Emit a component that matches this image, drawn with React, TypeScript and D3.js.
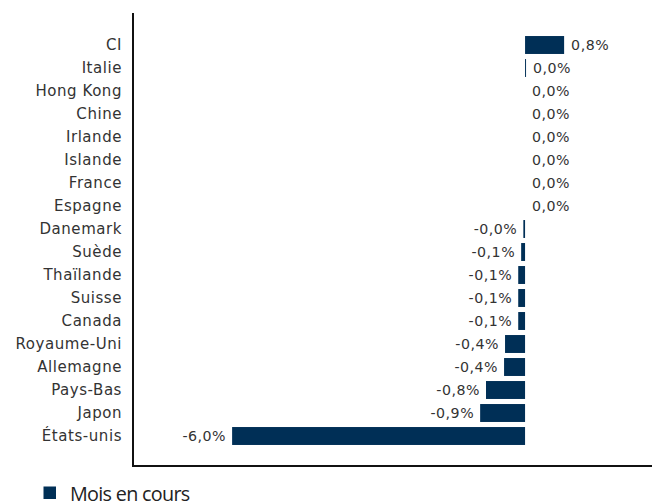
import React from "react";
import * as d3 from "d3";

const categories = ["CI","Italie","Hong Kong","Chine","Irlande","Islande","France","Espagne","Danemark","Suède","Thaïlande","Suisse","Canada","Royaume-Uni","Allemagne","Pays-Bas","Japon","États-unis"];
const values = [0.8,0.02,0,0,0,0,0,0,-0.035,-0.08,-0.14,-0.14,-0.14,-0.41,-0.43,-0.8,-0.92,-6.0];
const valueLabels = ["0,8%","0,0%","0,0%","0,0%","0,0%","0,0%","0,0%","0,0%","-0,0%","-0,1%","-0,1%","-0,1%","-0,1%","-0,4%","-0,4%","-0,8%","-0,9%","-6,0%"];
const legendLabel = "Mois en cours";

const W = 652, H = 501;
const FONT = "'DejaVu Sans', sans-serif";
const COLOR = "#002f56";

export default function App() {
  const x = d3.scaleLinear().domain([-8.03, 2.6]).range([133, 652]);
  const y = d3.scaleBand<string>().domain(categories).range([33.5, 447.5]).paddingInner(0.22).paddingOuter(0.11);
  const x0 = x(0);
  return (
    <svg width={W} height={H} style={{ position: "absolute", left: 0, top: 0 }}>
      <rect width={W} height={H} fill="#fff" />
      {categories.map((c, i) => {
        const v = values[i];
        const cy = (y(c) as number) + y.bandwidth() / 2;
        const xs = Math.min(x(v), x0);
        const w = Math.abs(x(v) - x0);
        return (
          <g key={c}>
            <rect x={xs} y={y(c)} width={w} height={y.bandwidth()} fill={COLOR} />
            <text x={122} y={cy} dy="0.35em" textAnchor="end" fontFamily={FONT} fontSize={15} letterSpacing={0.55} fill="#333">{c}</text>
            <text x={v >= 0 ? x(v) + 7 : x(v) - 6} y={cy} dy="0.35em" textAnchor={v >= 0 ? "start" : "end"} fontFamily={FONT} fontSize={14.2} letterSpacing={0.5} fill="#333">{valueLabels[i]}</text>
          </g>
        );
      })}
      <line x1={133} x2={133} y1={13} y2={467} stroke="#111" strokeWidth={2} />
      <line x1={132} x2={652} y1={466} y2={466} stroke="#111" strokeWidth={2} />
      <rect x={43.5} y={486.5} width={12.5} height={12.5} fill={COLOR} />
      <text x={70} y={500.5} fontFamily="'Open Sans', sans-serif" fontSize={19.8} letterSpacing={-0.7} fill="#222">{legendLabel}</text>
    </svg>
  );
}
